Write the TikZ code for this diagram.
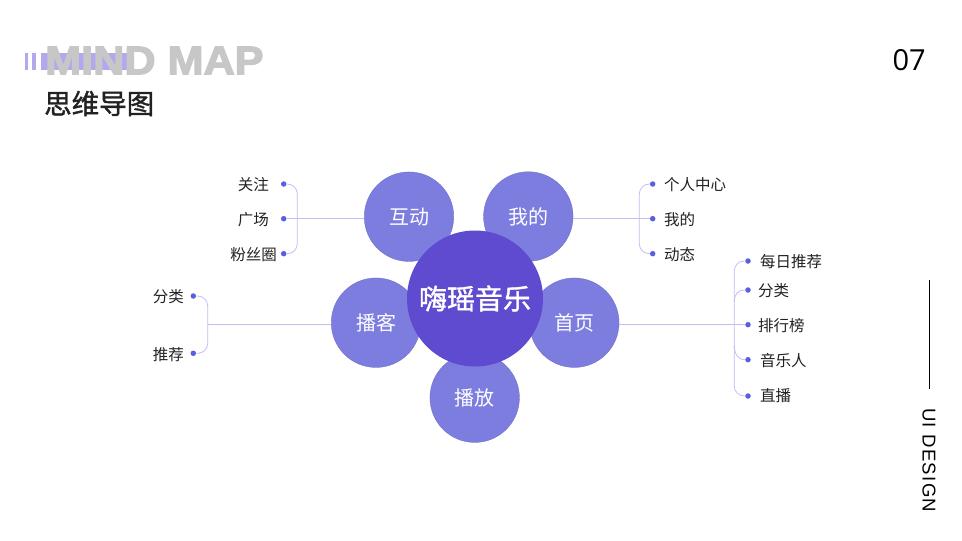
\documentclass[tikz,border=0pt]{standalone}
\usepackage{fontspec}
\setmainfont{Noto Sans CJK SC}
\newfontfamily\medf[FakeBold=1.4]{Noto Sans CJK SC}
\newfontfamily\heavyf[FakeBold=3]{Liberation Sans Bold}
\newfontfamily\spacedf[LetterSpace=7]{Liberation Sans}
\newfontfamily\openf{Open Sans}
\definecolor{petal}{HTML}{7D7DE0}
\definecolor{core}{HTML}{5F4BD0}
\definecolor{wire}{HTML}{C4BDF4}
\definecolor{dotc}{HTML}{5A5FE0}
\definecolor{stripe}{HTML}{B3A7F0}
\definecolor{ink}{HTML}{222222}
\tikzset{
  petalnode/.style={circle,fill=petal,draw=petal!85!black,line width=.3pt,minimum size=89.5pt,inner sep=0pt,text=white,font=\fontsize{20}{20}\selectfont},
  corenode/.style={circle,fill=core,minimum size=136pt,inner sep=0pt,text=white,font=\medf\fontsize{28}{28}\selectfont},
  dotnode/.style={circle,fill=dotc,minimum size=5.5pt,inner sep=0pt},
  lab/.style={text=ink,inner sep=0pt,font=\fontsize{15.5}{15.5}\selectfont},
  wireline/.style={draw=wire,line width=.8pt},
  bracket/.style={wireline,rounded corners=10pt},
  stripebar/.style={fill=stripe}
}
\begin{document}
\begin{tikzpicture}[x=1pt,y=-1pt]
\useasboundingbox (0,0) rectangle (962,541);
\fill[white] (0,0) rectangle (962,541);
% stripes
\foreach \a/\b in {25/28,32/36,41/128}{\fill[stripebar] (\a,52.5) rectangle (\b,69.5);}
\node[anchor=west,inner sep=0pt,text=black!22,xscale=1.08,font=\heavyf\fontsize{40}{40}\selectfont] (t1) at (45,60.5) {MIND MAP};
\node[anchor=west,inner sep=0pt,text=ink,font=\medf\fontsize{27.5}{27.5}\selectfont] (t2) at (44,103.5) {思维导图};
\node[anchor=east,inner sep=0pt,text=black,font=\openf\fontsize{29}{29}\selectfont] (t3) at (926,60) {07};
\node[rotate=-90,anchor=west,inner sep=0pt,text=black,font=\spacedf\fontsize{18.6}{18.6}\selectfont] (t4) at (929,408) {UI DESIGN};
\coordinate (v1) at (929,280); \coordinate (v2) at (929,389);
\draw[black,line width=.8pt] (v1) -- (v2);

% dots
\node[dotnode] (a1) at (283.7,184) {};
\node[dotnode] (a2) at (283.7,218.7) {};
\node[dotnode] (a3) at (283.7,253.7) {};
\node[dotnode] (b1) at (193.3,296) {};
\node[dotnode] (b2) at (193.3,353.3) {};
\node[dotnode] (c1) at (652.7,184) {};
\node[dotnode] (c2) at (652.7,218.7) {};
\node[dotnode] (c3) at (652.7,253.7) {};
\node[dotnode] (d1) at (748,261) {};
\node[dotnode] (d2) at (748,290) {};
\node[dotnode] (d3) at (748,324.7) {};
\node[dotnode] (d4) at (748,359.7) {};
\node[dotnode] (d5) at (748,396) {};

% petals
\node[petalnode] (hd) at (409,216.7) {互动};
\node[petalnode] (wd) at (528.3,216.5) {我的};
\node[petalnode] (sy) at (574.3,322.7) {首页};
\node[petalnode] (bk) at (376,322.7) {播客};
\node[petalnode] (bf) at (474.7,397.7) {播放};

% connectors
\draw[bracket] (a1) -| (297.3,218.7) |- (a3);
\draw[wireline] (a2) -- (a2 -| hd.west);
\draw[bracket] (b1) -| (207.7,324.3) |- (b2);
\coordinate (bs) at (207.7,324.3);
\draw[wireline] (bs) -- (bs -| bk.west);
\draw[bracket] (c1) -| (639.3,218.7) |- (c3);
\draw[wireline] (c2 -| wd.east) -- (c2);
\draw[bracket] (d1) -| (734.3,324.7) |- (d5);
\coordinate (dj1) at (734.3,302);
\coordinate (dj2) at (734.3,345);
\draw[wireline] (dj1) .. controls (734.3,294) and (738,290) .. (d2);
\draw[wireline] (dj2) .. controls (734.3,354) and (738,359.7) .. (d4);
\draw[wireline] (d3 -| sy.east) -- (d3);

% centre
\node[corenode] (hub) at (475,298.5) {嗨瑶音乐};

% labels
\node[lab,anchor=east] (la1) at (269,184.5) {关注};
\node[lab,anchor=east] (la2) at (269,219.5) {广场};
\node[lab,anchor=east] (la3) at (277,254.5) {粉丝圈};
\node[lab,anchor=east] (lb1) at (184,297) {分类};
\node[lab,anchor=east] (lb2) at (184,354.5) {推荐};
\node[lab,anchor=west] (lc1) at (664,184.5) {个人中心};
\node[lab,anchor=west] (lc2) at (664,219.5) {我的};
\node[lab,anchor=west] (lc3) at (664,254.5) {动态};
\node[lab,anchor=west] (ld1) at (760,261.5) {每日推荐};
\node[lab,anchor=west] (ld2) at (758,290.5) {分类};
\node[lab,anchor=west] (ld3) at (758,325.5) {排行榜};
\node[lab,anchor=west] (ld4) at (760,360.5) {音乐人};
\node[lab,anchor=west] (ld5) at (760,395.5) {直播};
\end{tikzpicture}
\end{document}
